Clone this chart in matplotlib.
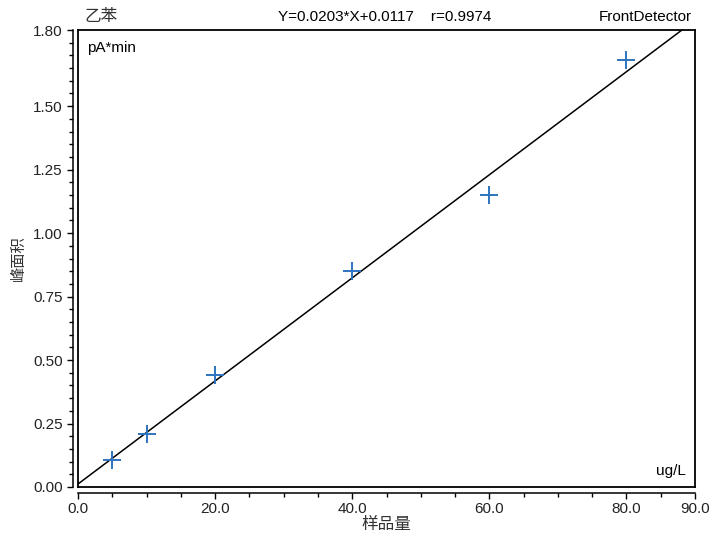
import matplotlib
matplotlib.use("Agg")
import matplotlib.pyplot as plt
import numpy as np
from matplotlib.ticker import MultipleLocator, FixedLocator

plt.rcParams['font.family'] = ['Liberation Sans', 'Noto Sans CJK SC', 'DejaVu Sans']

# data
x_vals = [5, 10, 20, 40, 60, 80]
y_vals = [0.105, 0.21, 0.44, 0.85, 1.15, 1.68]
slope = 0.0203
intercept = 0.0117
x_ticks = [0, 20, 40, 60, 80, 90]
x_ticklabels = ["0.0", "20.0", "40.0", "60.0", "80.0", "90.0"]
y_ticks = [0.0, 0.25, 0.5, 0.75, 1.0, 1.25, 1.5, 1.8]
y_ticklabels = ["0.00", "0.25", "0.50", "0.75", "1.00", "1.25", "1.50", "1.80"]

W, H = 712, 542
fig = plt.figure(figsize=(W/100, H/100), dpi=100)
l, r, t, b = 78, 695, 30, 487
ax = fig.add_axes([l/W, 1-b/H, (r-l)/W, (b-t)/H])

ax.set_xlim(0, 90)
ax.set_ylim(0, 1.80)

xl = np.array([0, 90])
ax.plot(xl, slope*xl + intercept, color='black', lw=1.1)
ax.plot(x_vals, y_vals, linestyle='none', marker='+', markersize=12.5,
        markeredgewidth=1.4, color='#2f74c0')

for s in ['top', 'right']:
    ax.spines[s].set_linewidth(1.3)
ax.spines['left'].set_position(('outward', 3.6))
ax.spines['bottom'].set_position(('outward', 4.5))
ax.spines['left'].set_linewidth(1.1)
ax.spines['bottom'].set_linewidth(1.1)
# box edges
ax.plot([0, 0], [0, 1], transform=ax.transAxes, color='black', lw=1.3, clip_on=False)
ax.plot([0, 1], [0, 0], transform=ax.transAxes, color='black', lw=1.3, clip_on=False)

ax.xaxis.set_major_locator(FixedLocator(x_ticks))
ax.set_xticklabels(x_ticklabels)
ax.xaxis.set_minor_locator(MultipleLocator(5))
ax.yaxis.set_major_locator(FixedLocator(y_ticks))
ax.set_yticklabels(y_ticklabels)
ax.yaxis.set_minor_locator(MultipleLocator(0.05))

ax.tick_params(axis='both', which='major', length=4.5, width=1, labelsize=11,
               colors='black', labelcolor='#222222')
ax.tick_params(axis='y', which='major', pad=3)
ax.tick_params(axis='x', which='major', pad=2)
ax.tick_params(axis='both', which='minor', length=3, width=1)

ax.set_xlabel("样品量", fontsize=12, color='#333333', labelpad=0, family=['Noto Sans CJK SC'])
ax.set_ylabel("峰面积", fontsize=11, color='#333333', labelpad=4, family=['Noto Sans CJK SC'])

fig.text(84/W, 1-16/H, "乙苯", fontsize=12, color='#333333', ha='left', va='center',
         family=['Noto Sans CJK SC'])
fig.text(385/W, 1-17/H, "Y=0.0203*X+0.0117    r=0.9974", fontsize=11, ha='center', va='center')
fig.text(692/W, 1-17/H, "FrontDetector", fontsize=11, ha='right', va='center')
ax.text(0.015, 0.975, "pA*min", transform=ax.transAxes, fontsize=11, ha='left', va='top')
ax.text(0.985, 0.02, "ug/L", transform=ax.transAxes, fontsize=11, ha='right', va='bottom')

fig.savefig("out.png", dpi=100)
